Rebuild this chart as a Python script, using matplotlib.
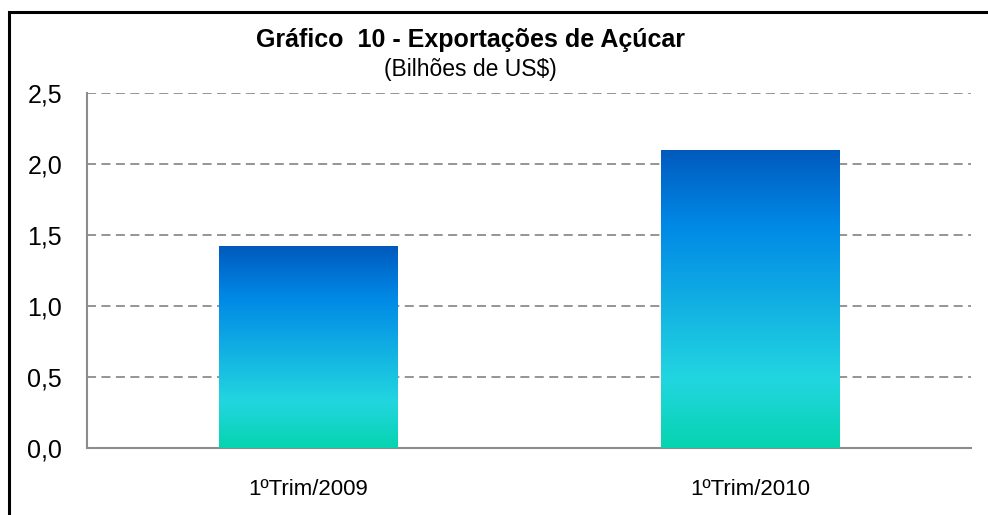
import numpy as np
import matplotlib
matplotlib.use('Agg')
import matplotlib.pyplot as plt
from matplotlib.colors import LinearSegmentedColormap
from matplotlib.patches import Rectangle

# data
categories = ['1ºTrim/2009', '1ºTrim/2010']
values = [1.42, 2.10]
yticks = [0.0, 0.5, 1.0, 1.5, 2.0, 2.5]
ytick_labels = ['0,0', '0,5', '1,0', '1,5', '2,0', '2,5']
title = 'Gráfico  10 - Exportações de Açúcar'
subtitle = '(Bilhões de US$)'

plt.rcParams['font.family'] = ['Liberation Sans', 'DejaVu Sans']

fig = plt.figure(figsize=(9.88, 5.15), dpi=100)
ax = fig.add_axes([87 / 988, 1 - 448 / 515, (971 - 87) / 988, (448 - 93) / 515])

# gradient from bottom (teal) to top (dark blue)
grad = LinearSegmentedColormap.from_list('grad', [
    (0.0, '#06D4B0'),
    (0.23, '#22D6E0'),
    (0.75, '#0088E6'),
    (1.0, '#005ABD'),
])

x = np.arange(len(categories))
bars = ax.bar(x, values, width=0.403, color='none', edgecolor='none', zorder=3)
g = np.linspace(0, 1, 256).reshape(-1, 1)
for b in bars:
    x0, y0 = b.get_x(), b.get_y()
    im = ax.imshow(g, cmap=grad, origin='lower', aspect='auto',
                   extent=[x0, x0 + b.get_width(), y0, y0 + b.get_height()],
                   zorder=3)
    im.set_clip_path(b)

ax.set_xlim(-0.5, 1.5)
ax.set_ylim(0, 2.5)
ax.set_yticks(yticks)
ax.set_yticklabels(ytick_labels, fontsize=18)
ax.set_xticks(x)
ax.set_xticklabels(categories, fontsize=16)
ax.tick_params(axis='y', length=0, pad=18)
ax.tick_params(axis='x', length=0, pad=22)

ax.yaxis.grid(True, linestyle=(0, (5, 3)), color='#8c8c8c', linewidth=1.3, zorder=1)
ax.set_axisbelow(True)
for s in ['top', 'right']:
    ax.spines[s].set_visible(False)
for s in ['left', 'bottom']:
    ax.spines[s].set_color('#8c8c8c')
    ax.spines[s].set_linewidth(1.5)

fig.text(470 / 988, 1 - 47 / 515, title, ha='center', va='baseline',
         fontsize=18, fontweight='bold')
fig.text(470 / 988, 1 - 76 / 515, subtitle, ha='center', va='baseline',
         fontsize=16.5)

# outer frame (runs off right and bottom edges)
fig.patches.append(Rectangle((9 / 988, -0.1), 1.2, 1 - 12 / 515 + 0.1,
                             transform=fig.transFigure, fill=False,
                             edgecolor='black', linewidth=2.2))

fig.savefig('out.png', dpi=100)
